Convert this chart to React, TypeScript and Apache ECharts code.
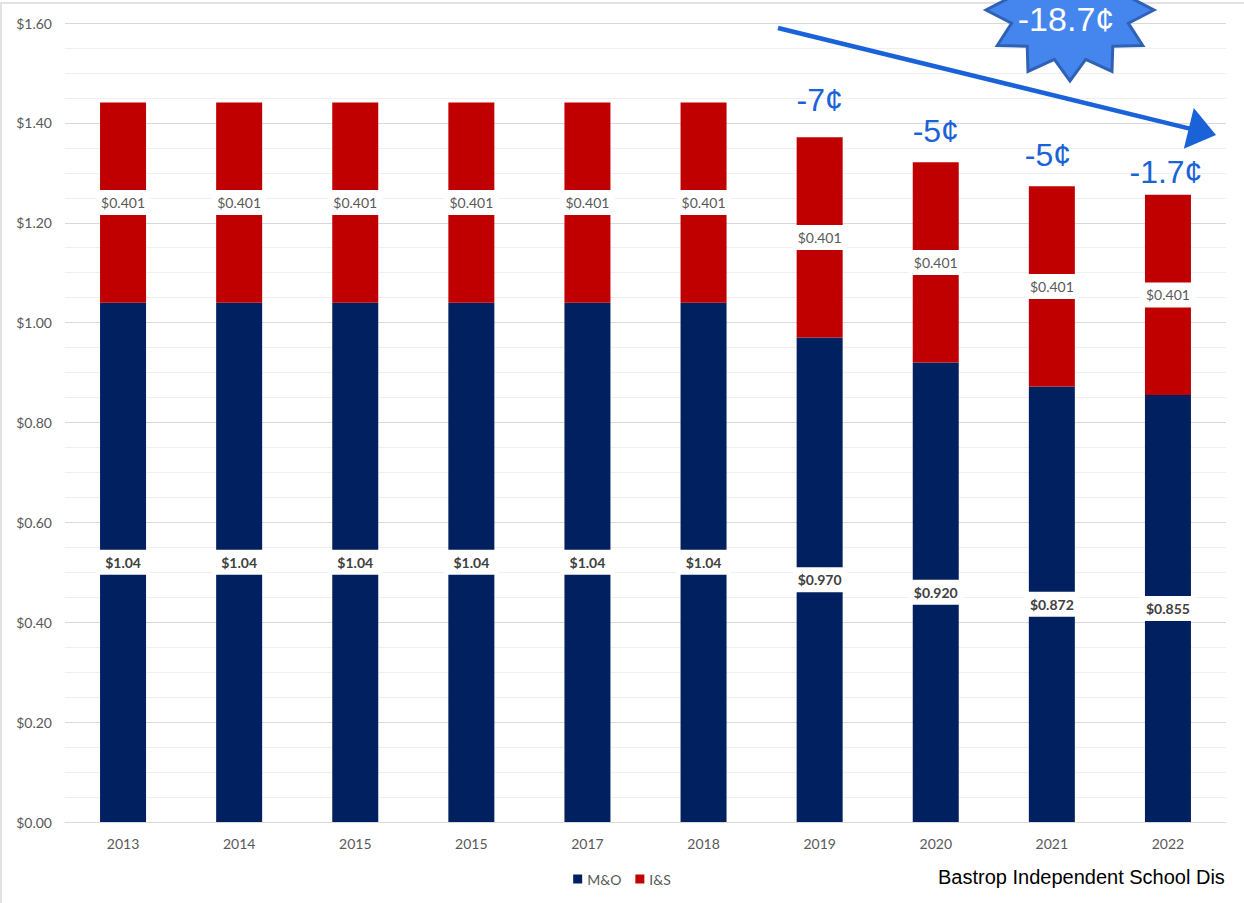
import React, { useEffect, useRef } from "react";
import * as echarts from "echarts";

const years = ["2013", "2014", "2015", "2015", "2017", "2018", "2019", "2020", "2021", "2022"];
const moValues = [1.04, 1.04, 1.04, 1.04, 1.04, 1.04, 0.97, 0.92, 0.872, 0.855];
const isValues = [0.401, 0.401, 0.401, 0.401, 0.401, 0.401, 0.401, 0.401, 0.401, 0.401];
const moLabels = ["$1.04", "$1.04", "$1.04", "$1.04", "$1.04", "$1.04", "$0.970", "$0.920", "$0.872", "$0.855"];
const isLabels = ["$0.401", "$0.401", "$0.401", "$0.401", "$0.401", "$0.401", "$0.401", "$0.401", "$0.401", "$0.401"];
const changeNotes = ["", "", "", "", "", "", "-7¢", "-5¢", "-5¢", "-1.7¢"];
const totalChange = "-18.7¢";
const sourceText = "Bastrop Independent School Dis";
const yTicks = { min: 0, max: 1.6, interval: 0.2 };

function starPoints(cx: number, cy: number, rx: number, ry: number, ratio: number, n: number) {
  const pts: number[][] = [];
  for (let i = 0; i < n * 2; i++) {
    const a = (Math.PI * i) / n;
    const f = i % 2 === 0 ? 1 : ratio;
    pts.push([cx + rx * f * Math.cos(a), cy + ry * f * Math.sin(a)]);
  }
  return pts;
}

export default function App() {
  const ref = useRef<HTMLDivElement>(null);
  useEffect(() => {
    document.body.style.margin = "0";
    if (!ref.current) return;
    const chart = echarts.init(ref.current, null, { renderer: "svg" });
    const totals = moValues.map((v, i) => v + isValues[i]);
    const font = "Lato, 'Open Sans', sans-serif";
    const arial = "'Liberation Sans', Arial, sans-serif";
    const blue = "#1a62d8";
    const x1 = 778, y1 = 28, tipX = 1216, tipY = 135;
    const dx = tipX - x1, dy = tipY - y1;
    const len = Math.sqrt(dx * dx + dy * dy);
    const ux = dx / len, uy = dy / len;
    const headLen = 28, headHalf = 21;
    const bx = tipX - ux * headLen, by = tipY - uy * headLen;
    const px = -uy, py = ux;

    const barLabel = {
      show: true,
      position: "inside",
      fontSize: 14,
      fontFamily: font,
      backgroundColor: "#ffffff",
      padding: [5, 4],
      width: 46,
      align: "center",
      lineHeight: 15,
      textBorderWidth: 0,
      textBorderColor: "transparent",
      borderWidth: 0,
      borderColor: "#ffffff",
    };

    chart.setOption({
      animation: false,
      grid: { left: 65, right: 18, top: 23, bottom: 81, containLabel: false },
      legend: {
        bottom: 12,
        left: "center",
        itemWidth: 9,
        itemHeight: 9,
        itemGap: 14,
        icon: "rect",
        textStyle: { color: "#595959", fontSize: 14, fontFamily: font },
        data: ["M&O", "I&S"],
      },
      xAxis: {
        type: "category",
        data: years,
        axisLine: { lineStyle: { color: "#d9d9d9", width: 1 } },
        axisTick: { show: false },
        axisLabel: { color: "#595959", fontSize: 14, fontFamily: font, margin: 14 },
      },
      yAxis: {
        type: "value",
        min: yTicks.min,
        max: yTicks.max,
        interval: yTicks.interval,
        axisLine: { show: false },
        axisTick: { show: false },
        axisLabel: {
          color: "#595959",
          fontSize: 14,
          fontFamily: font,
          margin: 13,
          formatter: (v: number) => "$" + v.toFixed(2),
        },
        splitLine: { lineStyle: { color: "#d9d9d9", width: 1 } },
        minorTick: { show: false, splitNumber: 4 },
        minorSplitLine: { show: true, lineStyle: { color: "#efefef", width: 1 } },
      },
      series: [
        {
          name: "M&O",
          type: "bar",
          stack: "tax",
          barWidth: 46,
          data: moValues,
          itemStyle: { color: "#002060" },
          label: {
            ...barLabel,
            formatter: (p: any) => moLabels[p.dataIndex],
            color: "#404040",
            fontWeight: "bold",
          },
        },
        {
          name: "I&S",
          type: "bar",
          stack: "tax",
          barWidth: 46,
          data: isValues,
          itemStyle: { color: "#c00000" },
          label: {
            ...barLabel,
            formatter: (p: any) => isLabels[p.dataIndex],
            color: "#595959",
          },
        },
        {
          name: "change",
          type: "scatter",
          silent: true,
          symbol: "circle",
          symbolSize: 2,
          itemStyle: { color: "rgba(0,0,0,0)", opacity: 1 },
          data: totals.map((t, i) => ({
            value: [i, t],
            label: i === 6 ? { offset: [0, -6] } : i === 9 ? { offset: [-2, 8] } : i === 8 ? { offset: [-4, 0] } : {},
          })),
          label: {
            show: true,
            position: "top",
            distance: 14,
            formatter: (p: any) => changeNotes[p.dataIndex],
            color: blue,
            fontSize: 32,
            fontFamily: arial,
            textBorderWidth: 0,
          },
          z: 5,
        },
      ],
      graphic: [
        {
          type: "rect",
          silent: true,
          shape: { x: 1, y: 3, width: 1400, height: 1000 },
          style: { fill: "none", stroke: "#d9d9d9", lineWidth: 1.5 },
          z: 0,
        },
        {
          type: "line",
          silent: true,
          shape: { x1, y1, x2: bx + ux * 2, y2: by + uy * 2 },
          style: { stroke: blue, lineWidth: 4.5 },
          z: 10,
        },
        {
          type: "polygon",
          silent: true,
          shape: {
            points: [
              [tipX, tipY],
              [bx + px * headHalf, by + py * headHalf],
              [bx - px * headHalf, by - py * headHalf],
            ],
          },
          style: { fill: blue },
          z: 10,
        },
        {
          type: "polygon",
          silent: true,
          shape: { points: starPoints(1070, 10, 84, 71, 0.72, 12) },
          style: { fill: "#4585ee", stroke: "#2f62b5", lineWidth: 3 },
          z: 11,
        },
        {
          type: "text",
          silent: true,
          x: 1066,
          y: 19,
          style: {
            text: totalChange,
            fill: "#ffffff",
            fontSize: 34,
            fontFamily: arial,
            align: "center",
            verticalAlign: "middle",
          },
          z: 12,
        },
        {
          type: "text",
          silent: true,
          x: 938,
          y: 877,
          style: {
            text: sourceText,
            fill: "#000000",
            fontSize: 20,
            fontFamily: arial,
            align: "left",
            verticalAlign: "middle",
          },
          z: 12,
        },
      ],
    });
    return () => chart.dispose();
  }, []);
  return <div ref={ref} style={{ width: 1244, height: 903 }} />;
}
